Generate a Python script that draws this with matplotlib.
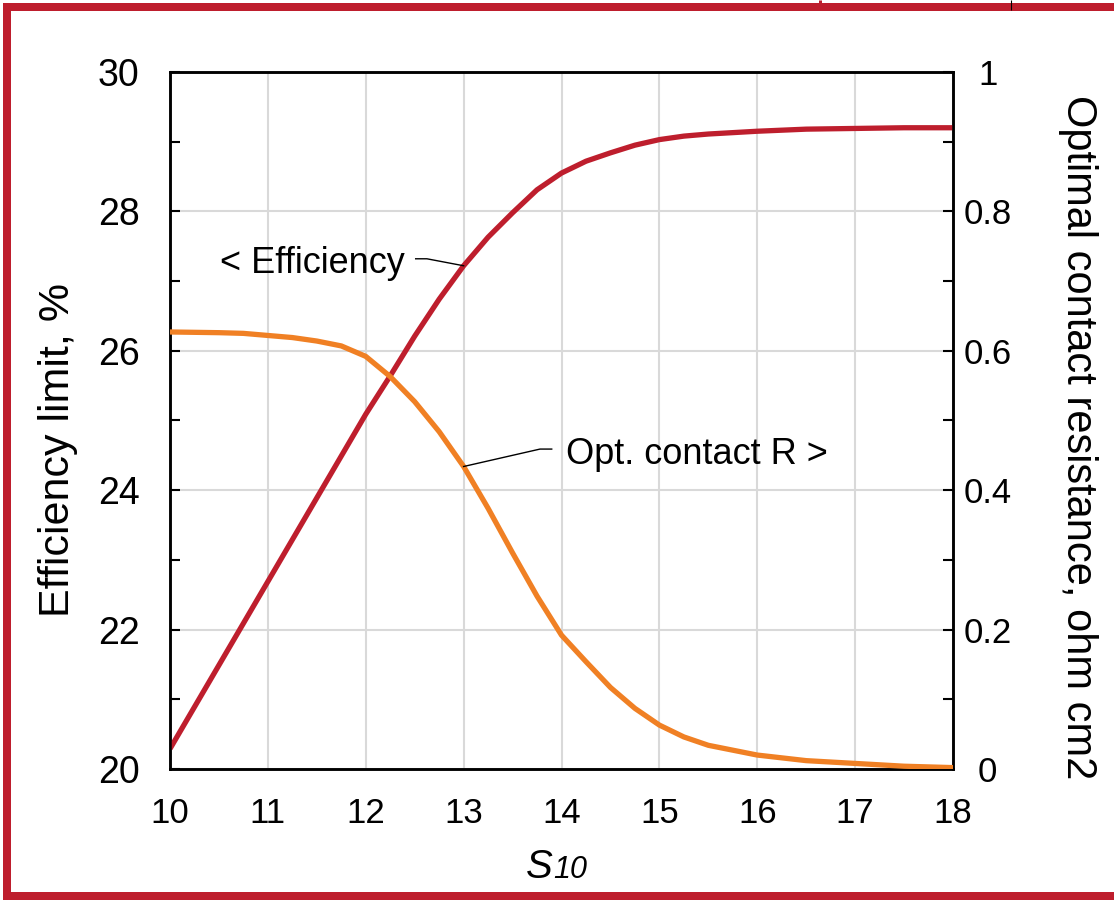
import matplotlib
matplotlib.use("Agg")
import matplotlib.pyplot as plt
from matplotlib.lines import Line2D
from matplotlib.ticker import MultipleLocator

plt.rcParams['font.family'] = ['Liberation Sans', 'DejaVu Sans']

# S10 values and the two curves
s10 = [10, 10.5, 10.75, 11, 11.25, 11.5, 11.75, 12, 12.25, 12.5, 12.75, 13, 13.25, 13.5,
       13.75, 14, 14.25, 14.5, 14.75, 15, 15.25, 15.5, 16, 16.5, 17, 17.5, 18]
efficiency = [20.29, 21.49, 22.09, 22.69, 23.29, 23.89, 24.49, 25.09, 25.64, 26.21, 26.74,
              27.22, 27.63, 27.98, 28.31, 28.55, 28.72, 28.84, 28.95, 29.03, 29.08, 29.11,
              29.15, 29.18, 29.19, 29.20, 29.20]
contact_r = [0.627, 0.626, 0.625, 0.622, 0.619, 0.614, 0.607, 0.592, 0.563, 0.527, 0.484,
             0.434, 0.374, 0.310, 0.248, 0.192, 0.154, 0.117, 0.087, 0.063, 0.046, 0.034,
             0.020, 0.012, 0.008, 0.004, 0.002]

x_ticks = [10, 11, 12, 13, 14, 15, 16, 17, 18]
left_ticks = [20, 22, 24, 26, 28, 30]
right_ticks = [0, 0.2, 0.4, 0.6, 0.8, 1.0]
right_tick_labels = ['0', '0.2', '0.4', '0.6', '0.8', '1']

RED = '#BE1E2D'
ORANGE = '#F08024'
GRID = '#D9D9D9'

fig = plt.figure(figsize=(11.14, 9.01), dpi=100)
ax = fig.add_axes([0.1526, 0.1465, 0.7029, 0.7736])
ax2 = ax.twinx()

ax.set_xlim(10, 18)
ax.set_ylim(20, 30)
ax2.set_ylim(0, 1)

ax.set_xticks(x_ticks)
ax.set_xticklabels([str(v) for v in x_ticks])
ax.set_yticks(left_ticks)
ax.set_yticklabels([str(v) for v in left_ticks])
ax.yaxis.set_minor_locator(MultipleLocator(1))
ax2.set_yticks(right_ticks)
ax2.set_yticklabels(right_tick_labels)
ax2.yaxis.set_minor_locator(MultipleLocator(0.1))

ax.grid(True, which='major', color=GRID, linewidth=1.5)
ax.set_axisbelow(True)

ax.tick_params(axis='x', length=0, pad=20, labelsize=25)
ax.tick_params(axis='y', which='both', direction='in', length=7, width=1.5,
               labelsize=27, pad=22, right=False)
ax2.tick_params(axis='y', which='both', direction='in', length=7, width=1.5,
                labelsize=25, pad=25)
for lbl in ax2.get_yticklabels():
    lbl.set_horizontalalignment('center')

for a in (ax, ax2):
    for sp in a.spines.values():
        sp.set_linewidth(1.8)
        sp.set_color('black')

ax.plot(s10, efficiency, color=RED, linewidth=3.8, solid_capstyle='butt',
        solid_joinstyle='round', zorder=3)
ax2.plot(s10, contact_r, color=ORANGE, linewidth=3.8, solid_capstyle='butt',
         solid_joinstyle='round', zorder=3)

# Leader lines and curve labels
i13 = s10.index(13)
ax.plot([12.51, 12.625, s10[i13]], [27.32, 27.32, efficiency[i13]],
        color='black', linewidth=1.0, zorder=4)
ax.text(10.51, 27.12, '< Efficiency', fontsize=26, ha='left', va='baseline', zorder=5)

ax2.plot([13.9, 13.78, s10[i13]], [0.459, 0.459, contact_r[i13]],
         color='black', linewidth=1.0, zorder=4)
ax2.text(14.05, 0.437, 'Opt. contact R >', fontsize=26, ha='left', va='baseline', zorder=5)

# Axis titles
fig.text(58 / 1114, 1 - 450 / 901, 'Efficiency limit, %', rotation=90,
         fontsize=31, ha='center', va='center')
fig.text(1078 / 1114, 1 - 437 / 901, 'Optimal contact resistance, ohm cm2', rotation=-90,
         fontsize=30, ha='center', va='center')
fig.text(553 / 1114, 1 - 878 / 901, 'S', fontsize=29, style='italic', ha='right', va='baseline')
fig.text(553 / 1114, 1 - 878 / 901, '10', fontsize=22, style='italic', ha='left', va='baseline')

# Red frame around the figure
W, H = 1114, 901
def px_line(xs, ys, color, lw):
    fig.add_artist(Line2D([x / W for x in xs], [1 - y / H for y in ys],
                          transform=fig.transFigure, color=color, linewidth=lw,
                          solid_capstyle='butt'))

frame_lw = 8 * 72 / 100
px_line([7, W], [7, 7], RED, frame_lw)
px_line([7, 7], [3, 900], RED, frame_lw)
px_line([3, W], [896, 896], RED, frame_lw)
px_line([820, 820], [0, 4], RED, 3 * 72 / 100)
px_line([1011, 1011], [0, 10], 'black', 0.8)

fig.savefig('out.png', dpi=100)
